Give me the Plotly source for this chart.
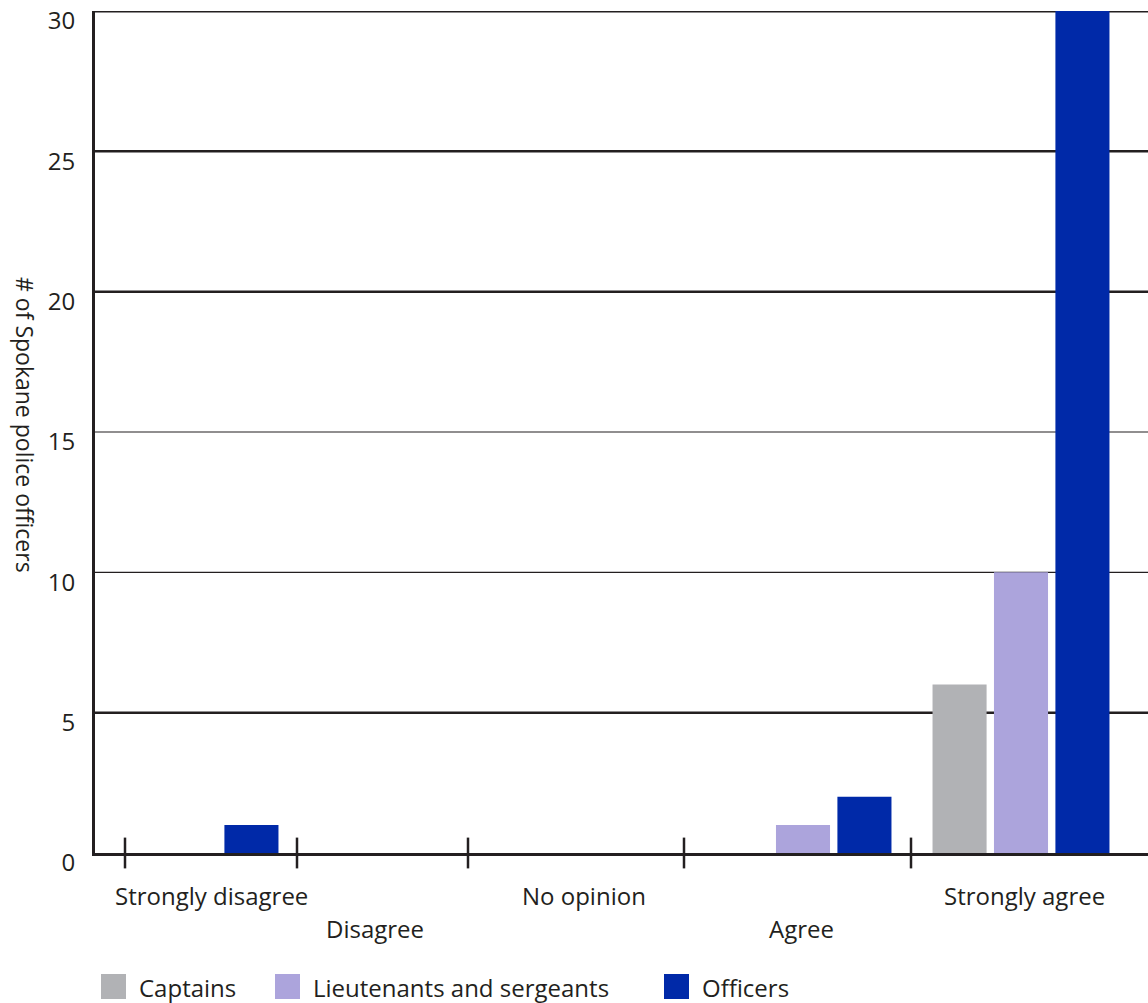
import plotly.graph_objects as go

# ---- data ----
categories = ["Strongly disagree", "Disagree", "No opinion", "Agree", "Strongly agree"]
captains = [0, 0, 0, 0, 6]
lieutenants = [0, 0, 0, 1, 10]
officers = [1, 0, 0, 2, 30]
series_names = ["Captains", "Lieutenants and sergeants", "Officers"]
y_ticks = [0, 5, 10, 15, 20, 25, 30]

# ---- layout constants (x axis expressed in plot-width units) ----
group_x = [190, 382, 576, 803, 1021]          # group centres per category
tick_marks_x = [125, 297, 468, 684, 911]      # category separator ticks
label_x = [211, 375, 584, 801, 1024]          # category label centres
label_row = [0, 1, 0, 1, 0]                   # staggered label rows
legend_x = [101, 275, 664]

colors = ["#b1b2b5", "#aca4dc", "#0029a8"]
ink = "#231f20"
FONT = "Open Sans"
FS = 24

fig = go.Figure()
for name, vals, col in zip(series_names, [captains, lieutenants, officers], colors):
    fig.add_trace(go.Bar(x=group_x, y=vals, name=name, marker=dict(color=col, line=dict(width=0)),
                         showlegend=False, hoverinfo="name+y"))

# tick marks crossing the x axis
fig.add_trace(go.Scatter(x=tick_marks_x, y=[0] * len(tick_marks_x), mode="markers",
                         marker=dict(symbol="line-ns", size=22, line=dict(width=2.5, color=ink)),
                         cliponaxis=False, showlegend=False, hoverinfo="skip"))

shapes = []
# gridlines of varying weight
for v, w in [(5, 2.5), (10, 1.2), (15, 1.2), (20, 2.5), (25, 2.5), (30, 3)]:
    shapes.append(dict(type="line", xref="paper", yref="y", x0=0, x1=1, y0=v, y1=v,
                       line=dict(color=ink, width=w), layer="below"))

annotations = []
for cat, lx, row in zip(categories, label_x, label_row):
    annotations.append(dict(text=cat, x=lx, xref="x", xanchor="center", y=0, yref="paper",
                            yanchor="middle", yshift=-42 - 33 * row, showarrow=False,
                            font=dict(family=FONT, size=FS, color=ink)))

# manual legend
for name, lx, col in zip(series_names, legend_x, colors):
    shapes.append(dict(type="rect", xref="x", yref="paper", ysizemode="pixel", yanchor=0,
                       x0=lx, x1=lx + 25, y0=-121, y1=-146,
                       fillcolor=col, line=dict(width=0)))
    annotations.append(dict(text=name, x=lx + 36, xref="x", xanchor="left", y=0, yref="paper",
                            yanchor="middle", yshift=-134, showarrow=False,
                            font=dict(family=FONT, size=FS, color=ink)))

# y axis title (reads top to bottom)
annotations.append(dict(text="# of Spokane police officers", xref="paper", x=(25 - 95) / 1053,
                        xanchor="center", yref="paper", y=(853 - 425) / 842, yanchor="middle",
                        showarrow=False, textangle=90,
                        font=dict(family=FONT, size=23, color=ink)))

fig.update_layout(
    width=1148, height=1003,
    margin=dict(l=95, r=0, t=11, b=150),
    paper_bgcolor="white", plot_bgcolor="white",
    barmode="group", bargap=0.04, bargroupgap=0.12,
    font=dict(family=FONT, size=FS, color=ink),
    shapes=shapes, annotations=annotations,
    xaxis=dict(range=[95, 1148], showticklabels=False, ticks="", showgrid=False, zeroline=False,
               showline=True, linecolor=ink, linewidth=3),
    yaxis=dict(range=[0, 30], tickvals=y_ticks, showgrid=False, zeroline=False,
               showline=True, linecolor=ink, linewidth=3, ticks="",
               ticklabelstandoff=12, ticklabelshift=10, ticklabeloverflow="allow",
               tickfont=dict(family=FONT, size=FS, color=ink)),
)

fig.write_html("out.html", config={"displayModeBar": False})

# remove the default page margin so the figure sits at the window's top-left corner
with open("out.html", "r", encoding="utf-8") as f:
    html = f.read()
html = html.replace("<head>", "<head><style>html,body{margin:0;padding:0;overflow:hidden;}</style>", 1)
with open("out.html", "w", encoding="utf-8") as f:
    f.write(html)
